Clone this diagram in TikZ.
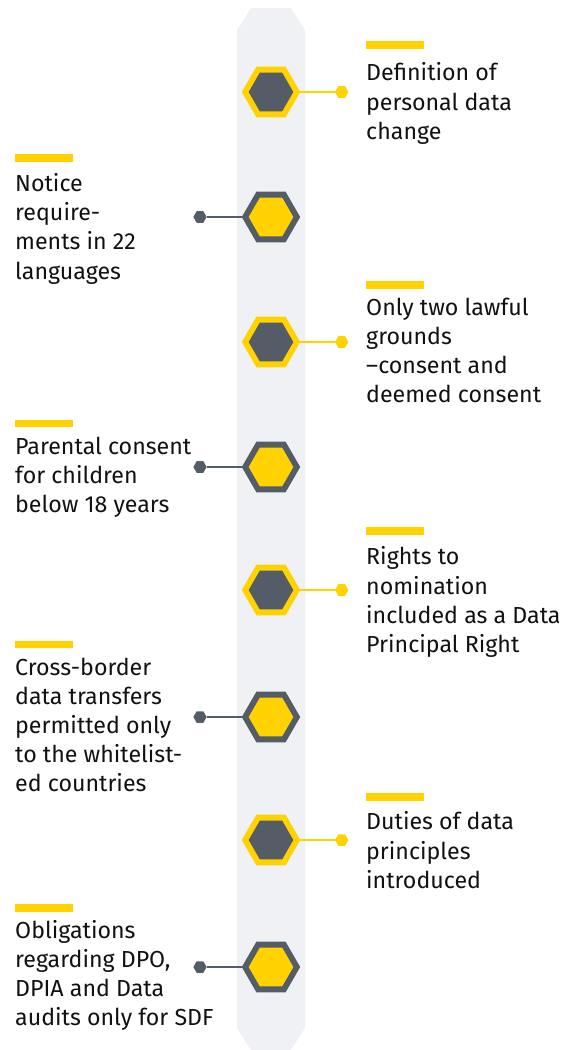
\documentclass[tikz,border=0pt]{standalone}
\usepackage{fontspec}
\setmainfont{Fira Sans}
\usetikzlibrary{shapes.geometric}
\definecolor{eyyellow}{HTML}{FFD200}
\definecolor{eygrey}{HTML}{535C67}
\definecolor{barbg}{HTML}{F0F1F5}
\definecolor{txtcol}{HTML}{111111}

\begin{document}
\begin{tikzpicture}[x=1pt, y=-1pt,
    hexR/.style={regular polygon, regular polygon sides=6, minimum size=51.7pt,
                 inner sep=0pt, outer sep=0pt, draw=eyyellow, fill=eygrey, line width=5.8pt},
    hexL/.style={hexR, draw=eygrey, fill=eyyellow},
    dotR/.style={regular polygon, regular polygon sides=6, minimum size=13.3pt,
                 inner sep=0pt, outer sep=0pt, fill=eyyellow},
    dotL/.style={dotR, fill=eygrey},
    linkR/.style={eyyellow, line width=2pt},
    linkL/.style={eygrey, line width=2pt},
    tick/.style={fill=eyyellow, minimum width=58pt, minimum height=7.5pt, inner sep=0pt},
    txt/.style={anchor=north west, align=left, inner sep=0pt, text=txtcol,
                font=\fontsize{23.2}{29.2}\selectfont, execute at begin node=\strut}]
    \useasboundingbox (0,0) rectangle (571,1050);

    % the grey spine
    \fill[barbg] (237,30) -- (251,8) -- (291,8) -- (305,30) -- (305,1028)
        -- (291,1050) -- (251,1050) -- (237,1028) -- cycle;

    % hexagons on the spine with their connectors
    \foreach \y/\n in {92/1, 342/3, 590/5, 840/7}{
        \node[hexR] (h\n) at (271,\y) {};
        \node[dotR] (d\n) at (341.7,\y) {};
        \draw[linkR] (h\n) -- (d\n);
    }
    \foreach \y/\n in {217/2, 467/4, 717/6, 967/8}{
        \node[hexL] (h\n) at (271,\y) {};
        \node[dotL] (d\n) at (200,\y) {};
        \draw[linkL] (h\n) -- (d\n);
    }

    % right-hand texts
    \node[tick] (b1) at (395,45) {};
    \node[txt] (t1) at (366,62.5) {Definition of\\personal data\\change};
    \node[tick] (b3) at (395,285) {};
    \node[txt] (t3) at (366,297.5) {Only two lawful\\grounds\\--consent and\\deemed consent};
    \node[tick] (b5) at (395,531) {};
    \node[txt] (t5) at (366,546.5) {Rights to\\nomination\\included as a Data\\Principal Right};
    \node[tick] (b7) at (395,797) {};
    \node[txt] (t7) at (366,811.5) {Duties of data\\principles\\introduced};

    % left-hand texts
    \node[tick] (b2) at (44,158) {};
    \node[txt] (t2) at (15,173.2) {Notice\\require-\\ments in 22\\languages};
    \node[tick] (b4) at (44,423.5) {};
    \node[txt] (t4) at (15,436.8) {Parental consent\\for children\\below 18 years};
    \node[tick] (b6) at (44,644.5) {};
    \node[txt] (t6) at (15,657.5) {Cross-border\\data transfers\\permitted only\\to the whitelist-\\ed countries};
    \node[tick] (b8) at (44,908) {};
    \node[txt] (t8) at (15,919.8) {Obligations\\regarding DPO,\\DPIA and Data\\audits only for SDF};
\end{tikzpicture}
\end{document}
